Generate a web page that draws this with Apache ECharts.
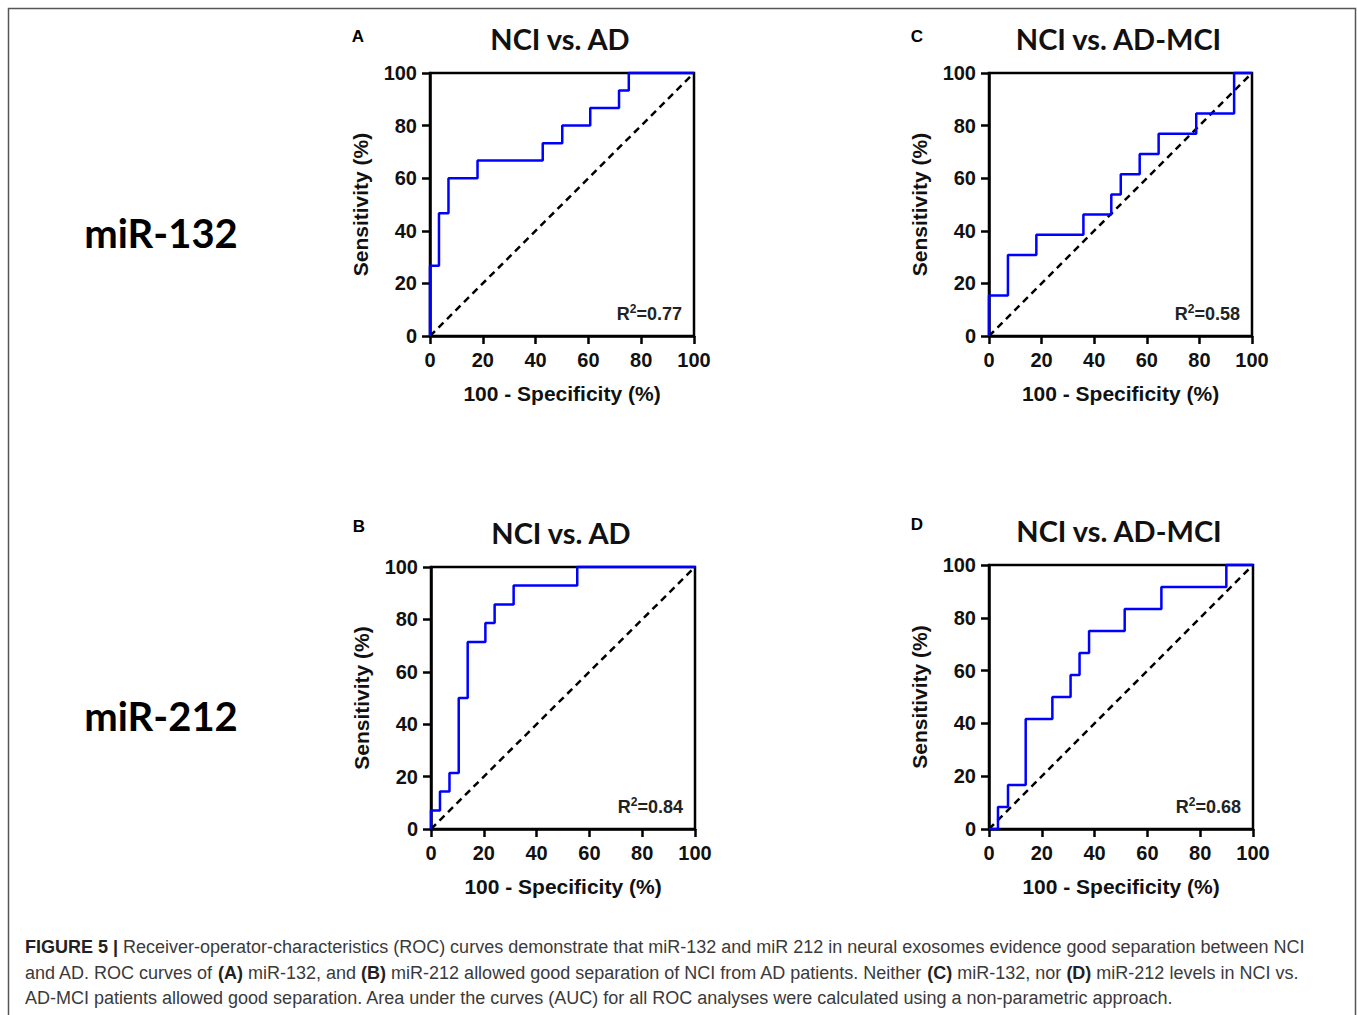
<!DOCTYPE html>
<html>
<head>
<meta charset="utf-8">
<script src="https://cdn.jsdelivr.net/npm/echarts@6/dist/echarts.min.js"></script>
<style>
  html, body { margin: 0; padding: 0; background: #fff; }
  #chart { width: 1357px; height: 1015px; }
</style>
</head>
<body>
<div id="chart"></div>
<script>
// ROC curves: corner points (100 - specificity, sensitivity)
var fprA = [0, 0, 3.4, 7.0, 18.0, 42.7, 50.1, 60.7, 71.6, 75.3, 100];
var tprA = [0, 26.7, 46.7, 60.0, 66.7, 73.3, 80.0, 86.7, 93.3, 100, 100];

var fprB = [0, 0, 3.4, 7.0, 10.5, 13.9, 20.6, 24.1, 31.3, 55.4, 100];
var tprB = [0, 7.1, 14.3, 21.4, 50.0, 71.4, 78.6, 85.7, 92.9, 100, 100];

var fprC = [0, 0, 7.2, 18.0, 35.9, 46.5, 50.1, 57.3, 64.5, 78.8, 93.2, 100];
var tprC = [0, 15.4, 30.8, 38.5, 46.2, 53.8, 61.5, 69.2, 76.9, 84.6, 100, 100];

var fprD = [0, 3.4, 7.2, 13.9, 24.0, 30.9, 34.3, 37.9, 51.4, 65.3, 89.9, 100];
var tprD = [0, 8.3, 16.7, 41.7, 50.0, 58.3, 66.7, 75.0, 83.3, 91.7, 100, 100];

var panelLetters = ["A", "B", "C", "D"];
var panelTitles = ["NCI vs. AD", "NCI vs. AD", "NCI vs. AD-MCI", "NCI vs. AD-MCI"];
var r2Values = ["0.77", "0.84", "0.58", "0.68"];
var rowLabels = ["miR-132", "miR-212"];
var axisTicks = [0, 20, 40, 60, 80, 100];

var myChart = echarts.init(document.getElementById("chart"), null, { renderer: "svg" });

var boxes = [
  { left: 430, top: 73, width: 264, height: 263 },
  { left: 431, top: 567, width: 264, height: 262 },
  { left: 989, top: 73, width: 263, height: 263 },
  { left: 989, top: 565, width: 264, height: 264 },
];
var curves = [
  [fprA, tprA],
  [fprB, tprB],
  [fprC, tprC],
  [fprD, tprD],
];

var BOLD = "Liberation Sans";
var grids = [], xAxes = [], yAxes = [], series = [], graphics = [];

for (let i = 0; i < 4; i++) {
  let b = boxes[i];
  grids.push({
    left: b.left, top: b.top, width: b.width, height: b.height,
    show: true, borderColor: "#000", borderWidth: 2.5, backgroundColor: "transparent",
  });
  let axisCommon = {
    type: "value", min: axisTicks[0], max: axisTicks[axisTicks.length - 1], interval: 20,
    gridIndex: i,
    axisLine: { show: true, lineStyle: { color: "#000", width: 2.5 } },
    axisTick: { show: true, inside: false, length: 8, lineStyle: { color: "#000", width: 2.5 } },
    splitLine: { show: false },
    nameLocation: "middle",
    nameTextStyle: { color: "#111", fontFamily: BOLD, fontWeight: "bold", fontSize: 21 },
  };
  xAxes.push(Object.assign({}, axisCommon, {
    name: "100 - Specificity (%)",
    nameGap: 47,
    axisLabel: { color: "#111", fontFamily: BOLD, fontWeight: "bold", fontSize: 20, margin: 14 },
  }));
  yAxes.push(Object.assign({}, axisCommon, {
    name: "Sensitivity (%)",
    nameGap: 59,
    axisLabel: { color: "#111", fontFamily: BOLD, fontWeight: "bold", fontSize: 20, margin: 13 },
  }));

  let fpr = curves[i][0], tpr = curves[i][1];
  let pts = [];
  for (let k = 0; k < fpr.length; k++) pts.push([fpr[k], tpr[k]]);

  series.push({
    type: "line", xAxisIndex: i, yAxisIndex: i,
    data: [[0, 0], [100, 100]],
    symbol: "none", clip: false, silent: true, z: 2,
    lineStyle: { color: "#000", width: 2.5, type: [7, 5] },
  });
  series.push({
    type: "line", xAxisIndex: i, yAxisIndex: i,
    data: pts, step: "end",
    symbol: "none", clip: false, silent: true, z: 3,
    lineStyle: { color: "#0000ff", width: 2.5 },
  });

  // panel title, letter and R² label
  graphics.push({
    type: "text",
    style: {
      x: b.left + b.width / 2 - 2, y: b.top - 35, text: panelTitles[i],
      font: "bold 29px Lato", fill: "#111",
      align: "center", verticalAlign: "middle", textAlign: "center", textVerticalAlign: "middle",
    },
  });
  graphics.push({
    type: "text",
    style: {
      x: b.left - 72, y: b.top - 37 + (i % 2 === 1 ? -4 : 0), text: panelLetters[i],
      font: "bold 17px " + BOLD, fill: "#000",
      align: "center", verticalAlign: "middle", textAlign: "center", textVerticalAlign: "middle",
    },
  });
  graphics.push({
    type: "text",
    style: {
      x: b.left + b.width - 12, y: b.top + b.height - 22,
      text: "{a|R}{s|2}{a|=" + r2Values[i] + "}",
      font: "bold 18px " + BOLD, fill: "#222",
      align: "right", verticalAlign: "middle", textAlign: "right", textVerticalAlign: "middle",
      rich: {
        a: { fontFamily: BOLD, fontWeight: "bold", fontSize: 18, lineHeight: 22, fill: "#222" },
        s: { fontFamily: BOLD, fontWeight: "bold", fontSize: 12, lineHeight: 22, verticalAlign: "top", fill: "#222" },
      },
    },
  });
}

// row labels
graphics.push({
  type: "text",
  style: { x: 161, y: 233, text: rowLabels[0], font: "bold 40px Lato", fill: "#000",
    align: "center", verticalAlign: "middle", textAlign: "center", textVerticalAlign: "middle" },
});
graphics.push({
  type: "text",
  style: { x: 161, y: 716, text: rowLabels[1], font: "bold 40px Lato", fill: "#000",
    align: "center", verticalAlign: "middle", textAlign: "center", textVerticalAlign: "middle" },
});

// figure frame
graphics.push({
  type: "rect", silent: true,
  shape: { x: 8.5, y: 8.5, width: 1347, height: 1020 },
  style: { fill: "none", stroke: "#555", lineWidth: 1.5 },
});

// caption
var captionLines = [
  "{b|FIGURE 5 |} Receiver-operator-characteristics (ROC) curves demonstrate that miR-132 and miR 212 in neural exosomes evidence good separation between NCI",
  "and AD. ROC curves of {b|(A)} miR-132, and {b|(B)} miR-212 allowed good separation of NCI from AD patients. Neither {b|(C)} miR-132, nor {b|(D)} miR-212 levels in NCI vs.",
  "AD-MCI patients allowed good separation. Area under the curves (AUC) for all ROC analyses were calculated using a non-parametric approach.",
];
var captionY = [947, 973, 998];
for (let j = 0; j < captionLines.length; j++) {
  graphics.push({
    type: "text",
    style: {
      x: 25, y: captionY[j], text: captionLines[j],
      font: "18px " + BOLD, fill: "#3a3a3a",
      align: "left", verticalAlign: "middle", textAlign: "left", textVerticalAlign: "middle",
      rich: { b: { fontFamily: BOLD, fontWeight: "bold", fontSize: 18, fill: "#222" } },
    },
  });
}

var option = {
  animation: false,
  backgroundColor: "#fff",
  grid: grids,
  xAxis: xAxes,
  yAxis: yAxes,
  series: series,
  graphic: graphics,
};
myChart.setOption(option);
</script>
</body>
</html>
